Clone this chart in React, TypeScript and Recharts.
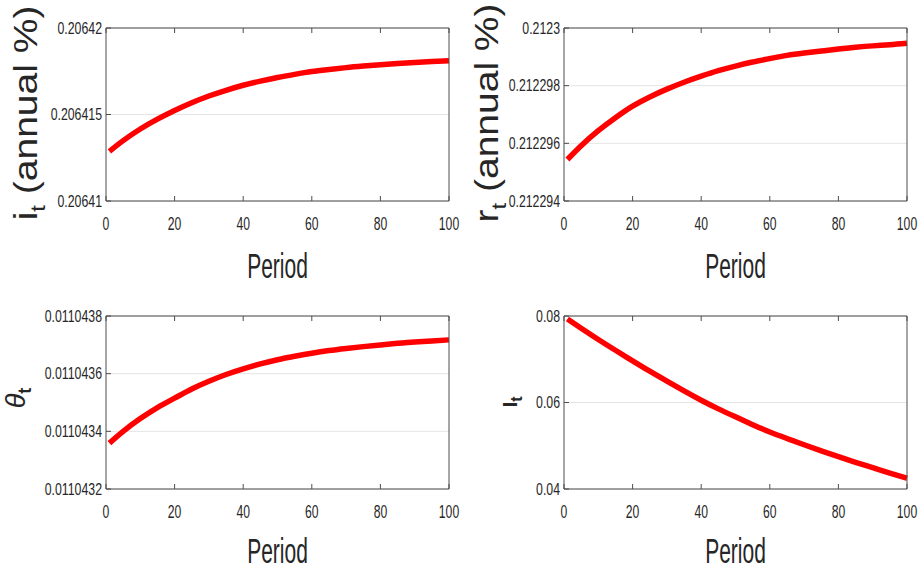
import React from 'react';
import { LineChart, Line, XAxis, YAxis, CartesianGrid, Label } from 'recharts';

const periods = [1, 5, 10, 15, 20, 25, 30, 35, 40, 45, 50, 55, 60, 65, 70, 75, 80, 85, 90, 95, 100];

const interestRate = [
  0.20641287, 0.20641349, 0.20641416, 0.20641473, 0.20641523, 0.20641568, 0.20641607,
  0.2064164, 0.20641669, 0.20641693, 0.20641714, 0.20641732, 0.20641748, 0.2064176,
  0.20641771, 0.2064178, 0.20641788, 0.20641795, 0.20641801, 0.20641806, 0.2064181,
];

const realRate = [
  0.21229544, 0.21229592, 0.21229644, 0.21229689, 0.21229729, 0.21229761, 0.21229788,
  0.21229812, 0.21229833, 0.21229852, 0.21229868, 0.21229882, 0.21229894, 0.21229905,
  0.21229913, 0.2122992, 0.21229927, 0.21229933, 0.21229938, 0.21229942, 0.21229947,
];

const thetaValues = [
  0.011043359, 0.0110434, 0.0110434442, 0.0110434826, 0.011043515, 0.0110435468, 0.0110435738,
  0.0110435972, 0.011043617, 0.0110436338, 0.0110436482, 0.0110436602, 0.011043671, 0.01104368,
  0.0110436872, 0.0110436938, 0.0110436998, 0.0110437052, 0.01104371, 0.0110437136, 0.0110437172,
];

const investment = [
  0.0793, 0.07718, 0.07458, 0.07208, 0.06963, 0.06723, 0.06493, 0.06268, 0.06053, 0.05853,
  0.05668, 0.05488, 0.05318, 0.05168, 0.05023, 0.04883, 0.04748, 0.04618, 0.04493, 0.04368,
  0.04248,
];

const xTicks = [0, 20, 40, 60, 80, 100];
const iTicks = [0.20641, 0.206415, 0.20642];
const rTicks = [0.212294, 0.212296, 0.212298, 0.2123];
const thetaTicks = [0.0110432, 0.0110434, 0.0110436, 0.0110438];
const investTicks = [0.04, 0.06, 0.08];

const FONT = '"Liberation Sans", Arial, Helvetica, sans-serif';
const TEXT = '#262626';
const AXIS = '#4d4d4d';

const XTick = (props: any) => {
  const { x, y, payload } = props;
  return (
    <text
      transform={`translate(${x},${y}) scale(0.64,1)`}
      x={0}
      y={0}
      textAnchor="middle"
      fontFamily={FONT}
      fontSize={19}
      fill={TEXT}
    >
      {String(payload.value)}
    </text>
  );
};

const YTick = (props: any) => {
  const { x, y, payload } = props;
  return (
    <text
      transform={`translate(${x},${y}) scale(0.77,1)`}
      x={0}
      y={0}
      dy="0.36em"
      textAnchor="end"
      fontFamily={FONT}
      fontSize={16}
      fill={TEXT}
    >
      {String(payload.value)}
    </text>
  );
};

type PanelProps = {
  left: number;
  top: number;
  width: number;
  height: number;
  margin: { top: number; right: number; bottom: number; left: number };
  values: number[];
  ticks: number[];
  periodOffset: number;
  yLabel: (vb: any) => React.ReactNode;
};

const Panel = ({ left, top, width, height, margin, values, ticks, periodOffset, yLabel }: PanelProps) => {
  const data = periods.map((t, i) => ({ t, v: values[i] }));
  const domain: [number, number] = [ticks[0], ticks[ticks.length - 1]];
  const m = {
    top: margin.top - 1,
    bottom: margin.bottom - 1,
    left: margin.left - 1,
    right: margin.right - 1,
  };
  return (
    <div style={{ position: 'absolute', left, top, width, height }}>
      <LineChart width={width} height={height} data={data} margin={m}>
        <CartesianGrid vertical={false} stroke="#e4e4e4" strokeWidth={1} />
        <XAxis
          dataKey="t"
          type="number"
          domain={[0, 100]}
          ticks={xTicks}
          height={1}
          axisLine={{ stroke: AXIS, strokeWidth: 1 }}
          tickLine={{ stroke: AXIS, strokeWidth: 1 }}
          tickSize={-5}
          tickMargin={34}
          tick={<XTick />}
          interval={0}
        >
          <Label
            content={(p: any) => {
              const vb = p.viewBox || {};
              const cx = vb.x + vb.width / 2;
              const by = vb.y + periodOffset;
              return (
                <text
                  transform={`translate(${cx},${by}) scale(0.6,1)`}
                  x={0}
                  y={0}
                  textAnchor="middle"
                  fontFamily={FONT}
                  fontSize={35}
                  fill={TEXT}
                >
                  Period
                </text>
              );
            }}
          />
        </XAxis>
        <XAxis
          xAxisId="top"
          orientation="top"
          dataKey="t"
          type="number"
          domain={[0, 100]}
          ticks={xTicks}
          height={1}
          axisLine={{ stroke: AXIS, strokeWidth: 1 }}
          tickLine={{ stroke: AXIS, strokeWidth: 1 }}
          tickSize={-5}
          tick={() => <g />}
          interval={0}
        />
        <YAxis
          type="number"
          domain={domain}
          ticks={ticks}
          width={1}
          axisLine={{ stroke: AXIS, strokeWidth: 1 }}
          tickLine={{ stroke: AXIS, strokeWidth: 1 }}
          tickSize={-5}
          tickMargin={9}
          tick={<YTick />}
          interval={0}
        >
          <Label content={(p: any) => yLabel(p.viewBox || {})} />
        </YAxis>
        <YAxis
          yAxisId="right"
          orientation="right"
          type="number"
          domain={domain}
          ticks={ticks}
          width={1}
          axisLine={{ stroke: AXIS, strokeWidth: 1 }}
          tickLine={{ stroke: AXIS, strokeWidth: 1 }}
          tickSize={-5}
          tick={() => <g />}
          interval={0}
        />
        <Line
          type="natural"
          dataKey="v"
          stroke="#ff0000"
          strokeWidth={5.5}
          dot={false}
          isAnimationActive={false}
        />
      </LineChart>
    </div>
  );
};

const rateLabel = (letter: string, bx: number, cy: number) => () => (
  <text
    transform={`translate(${bx},${cy}) rotate(-90) scale(1,0.85)`}
    x={0}
    y={0}
    textAnchor="middle"
    fontFamily={FONT}
    fontSize={39}
    fill={TEXT}
  >
    <tspan>{letter}</tspan>
    <tspan dy={9} fontSize={24}>t</tspan>
    <tspan dy={-9}>{' (annual %)'}</tspan>
  </text>
);

const thetaLabel = () => (
  <text
    transform={`translate(25,108) rotate(-90)`}
    x={0}
    y={0}
    textAnchor="middle"
    fontFamily={FONT}
    fontSize={27}
    fill={TEXT}
  >
    <tspan fontStyle="italic">θ</tspan>
    <tspan dy={6} fontSize={18} fontWeight="bold">t</tspan>
  </text>
);

const investLabel = () => (
  <text
    transform={`translate(58,112) rotate(-90)`}
    x={0}
    y={0}
    textAnchor="middle"
    fontFamily={FONT}
    fontSize={21}
    fontWeight="bold"
    fill={TEXT}
  >
    <tspan>I</tspan>
    <tspan dy={5} fontSize={16}>t</tspan>
  </text>
);

export default function App() {
  return (
    <div
      style={{
        position: 'absolute',
        left: 0,
        top: 0,
        width: 919,
        height: 570,
        background: '#ffffff',
      }}
    >
      <Panel
        left={0}
        top={0}
        width={460}
        height={290}
        margin={{ top: 28, right: 11, bottom: 89, left: 106 }}
        values={interestRate}
        ticks={iTicks}
        periodOffset={77}
        yLabel={rateLabel('i', 37, 113)}
      />
      <Panel
        left={459}
        top={0}
        width={460}
        height={290}
        margin={{ top: 28, right: 12, bottom: 89, left: 105 }}
        values={realRate}
        ticks={rTicks}
        periodOffset={77}
        yLabel={rateLabel('r', 39, 113)}
      />
      <Panel
        left={0}
        top={290}
        width={460}
        height={280}
        margin={{ top: 26, right: 11, bottom: 81, left: 106 }}
        values={thetaValues}
        ticks={thetaTicks}
        periodOffset={74}
        yLabel={thetaLabel}
      />
      <Panel
        left={459}
        top={290}
        width={460}
        height={280}
        margin={{ top: 26, right: 12, bottom: 81, left: 105 }}
        values={investment}
        ticks={investTicks}
        periodOffset={74}
        yLabel={investLabel}
      />
    </div>
  );
}
